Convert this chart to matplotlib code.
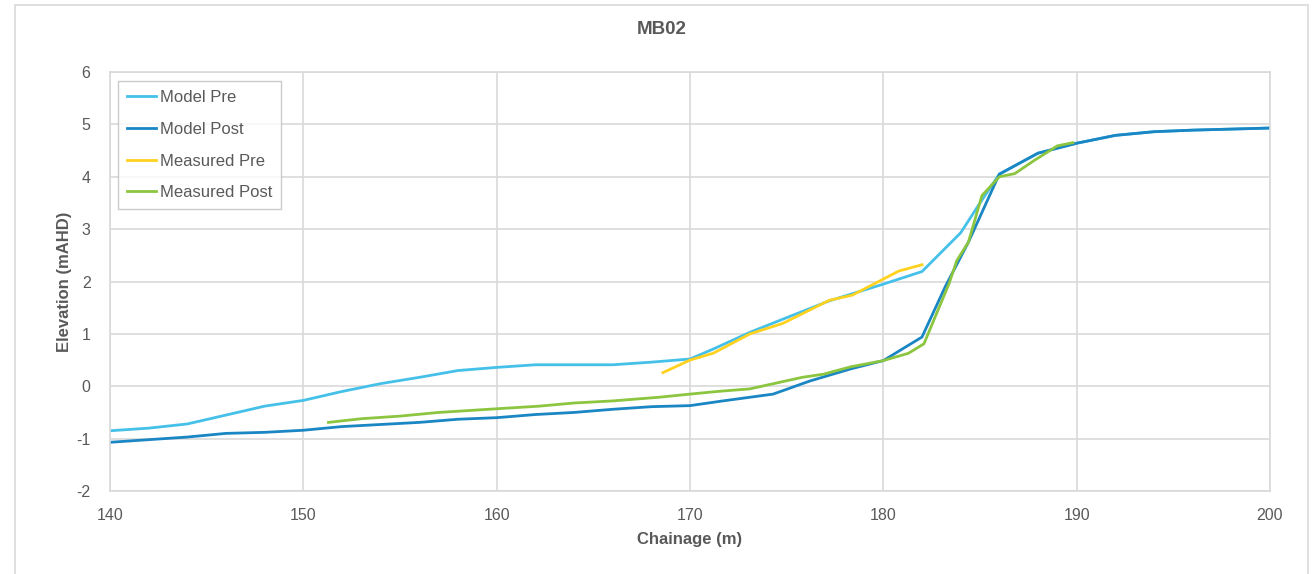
import matplotlib
matplotlib.use("Agg")
import matplotlib.pyplot as plt
from matplotlib.patches import Rectangle

plt.rcParams['font.family'] = ['Liberation Sans', 'DejaVu Sans']
plt.rcParams['axes.unicode_minus'] = False

# Data
model_pre_x = [140, 142, 144, 146, 148, 150, 152, 154, 156, 158, 160, 162, 164, 166, 168, 170,
               171.2, 173.1, 174.8, 177.2, 180, 182, 184, 185, 186, 188, 190, 192, 194, 196, 198, 200]
model_pre_y = [-0.85, -0.8, -0.72, -0.55, -0.38, -0.27, -0.1, 0.05, 0.17, 0.3, 0.36, 0.41, 0.41, 0.41, 0.46, 0.52,
               0.71, 1.03, 1.28, 1.63, 1.95, 2.19, 2.93, 3.5, 4.05, 4.45, 4.64, 4.79, 4.86, 4.89, 4.91, 4.93]

model_post_x = [140, 142, 144, 146, 148, 150, 152, 154, 156, 158, 160, 162, 164, 166, 168, 170,
                171.7, 174.3, 176.2, 178.3, 180, 182, 183.2, 184.4, 186, 188, 190, 192, 194, 196, 198, 200]
model_post_y = [-1.07, -1.02, -0.97, -0.9, -0.88, -0.84, -0.77, -0.73, -0.69, -0.63, -0.6, -0.54, -0.5, -0.44, -0.39, -0.37,
                -0.28, -0.15, 0.1, 0.33, 0.49, 0.94, 1.9, 2.75, 4.05, 4.45, 4.64, 4.79, 4.86, 4.89, 4.91, 4.93]

meas_pre_x = [168.6, 170, 171.2, 173.1, 174.8, 177.2, 178.4, 180.8, 182]
meas_pre_y = [0.26, 0.5, 0.63, 1.0, 1.2, 1.64, 1.74, 2.2, 2.32]

meas_post_x = [151.3, 153, 155, 157, 160, 162.2, 164, 166, 168.4, 170, 171.4, 173.1, 175.8, 176.9, 178.3, 180,
               181.3, 182.1, 183.4, 183.8, 184.4, 185.1, 186, 186.8, 187.8, 189, 189.8]
meas_post_y = [-0.69, -0.62, -0.57, -0.5, -0.43, -0.38, -0.32, -0.28, -0.21, -0.15, -0.1, -0.05, 0.17, 0.23, 0.37, 0.49,
               0.63, 0.81, 1.96, 2.4, 2.75, 3.64, 4.0, 4.06, 4.31, 4.59, 4.65]

W, H = 1316, 574
fig = plt.figure(figsize=(W / 100, H / 100), dpi=100)
fig.patch.set_facecolor('white')

# outer chart border
fig.patches.append(Rectangle((15 / W, -0.01), (1308 - 15) / W, (H - 5) / H + 0.01,
                             transform=fig.transFigure, fill=False, edgecolor='#d9d9d9', lw=1.2))

ax = fig.add_axes([110 / W, 1 - 491 / H, (1270 - 110) / W, (491 - 72) / H])
ax.set_xlim(140, 200)
ax.set_ylim(-2, 6)
ax.set_xticks(range(140, 201, 10))
ax.set_yticks(range(-2, 7))
ax.grid(True, color='#d9d9d9', lw=1.2)
ax.set_axisbelow(True)
for s in ax.spines.values():
    s.set_color('#d9d9d9')
    s.set_linewidth(1.2)
ax.tick_params(axis='x', length=0, labelsize=11.5, labelcolor='#595959', pad=12)
ax.tick_params(axis='y', length=0, labelsize=11.5, labelcolor='#595959', pad=14)

ax.plot(model_pre_x, model_pre_y, color='#45c1e9', lw=2, label='Model Pre')
ax.plot(model_post_x, model_post_y, color='#1a86c3', lw=2, label='Model Post')
ax.plot(meas_pre_x, meas_pre_y, color='#ffd21f', lw=2, label='Measured Pre')
ax.plot(meas_post_x, meas_post_y, color='#8cc53f', lw=2, label='Measured Post')

ax.set_xlabel('Chainage (m)', fontsize=12, fontweight='bold', color='#595959', labelpad=7)
ax.set_ylabel('Elevation (mAHD)', fontsize=12, fontweight='bold', color='#595959', labelpad=3)
fig.text(662 / W, 1 - 30 / H, 'MB02', ha='center', va='center', fontsize=13.5,
         fontweight='bold', color='#595959')

leg = ax.legend(loc='upper left', bbox_to_anchor=(8 / 1160, 1 - 9 / 419), fontsize=12,
                frameon=True, fancybox=False, edgecolor='#bfbfbf', handlelength=1.75,
                handletextpad=0.2, labelspacing=1.0, borderpad=0.55, borderaxespad=0)
leg.get_frame().set_linewidth(1.0)
for t in leg.get_texts():
    t.set_color('#595959')

fig.savefig('out.png', dpi=100, facecolor='white')
